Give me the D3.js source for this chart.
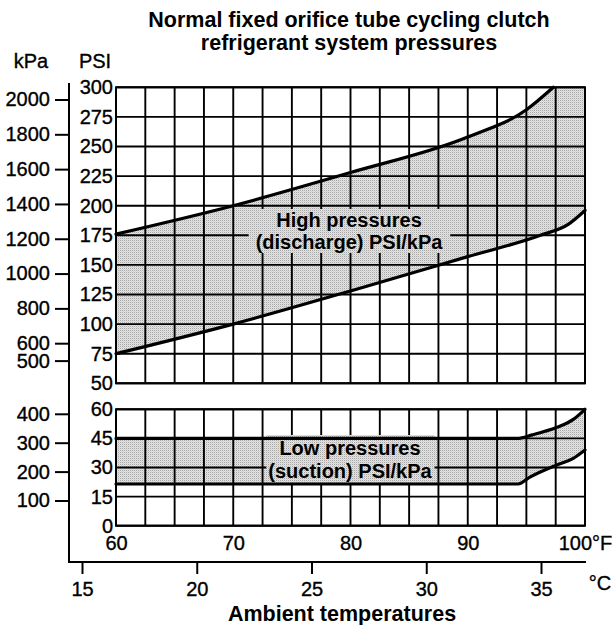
<!DOCTYPE html>
<html>
<head>
<meta charset="utf-8">
<script src="https://cdn.jsdelivr.net/npm/d3@7"></script>
<style>
  html, body { margin: 0; padding: 0; background: #fff; }
  svg { display: block; }
  text { font-family: "Liberation Sans", Arial, Helvetica, sans-serif; fill: #000; }
</style>
</head>
<body>
<svg id="chart" width="616" height="625"></svg>
<script>
// ---- data ----
const titleLines = ["Normal fixed orifice tube cycling clutch", "refrigerant system pressures"];
const fahrenheitTicks = [60, 70, 80, 90, 100];
const celsiusTicks = [15, 20, 25, 30, 35];
const psiHighTicks = [50, 75, 100, 125, 150, 175, 200, 225, 250, 275, 300];
const psiLowTicks = [0, 15, 30, 45, 60];
const kpaHighTicks = [500, 600, 800, 1000, 1200, 1400, 1600, 1800, 2000];
const kpaLowTicks = [100, 200, 300, 400];

// high side (discharge) band, PSI vs ambient °F
const highMaxTemp = [60, 70, 80, 90, 95, 97.3];
const highMaxPsi  = [176, 200, 228, 258, 281, 300];
const highMinTemp = [60, 70, 80, 90, 96.2, 98.6, 100];
const highMinPsi  = [75, 100, 128, 157, 175, 184.5, 196];

// low side (suction) band, PSI vs ambient °F
const lowMaxTemp = [60, 94.2, 95.5, 97.6, 99, 100];
const lowMaxPsi  = [45, 45, 46.8, 50.7, 54.8, 60];
const lowMinTemp = [60, 94.3, 95.3, 97.6, 99, 100];
const lowMinPsi  = [21.5, 21.5, 25, 31.3, 34.7, 39];

// ---- layout ----
const svg = d3.select("#chart");
const FONT = 20;
const INK = 0.35;   // slight stroke to give the regular labels a printed weight

const x = d3.scaleLinear().domain([60, 100]).range([116, 585]);
const yHi = d3.scaleLinear().domain([50, 300]).range([383.3, 87.3]);
const yLo = d3.scaleLinear().domain([0, 60]).range([525.7, 409.3]);
const xC = d3.scaleLinear().domain([15, 35]).range([82, 541]);
const kpaHi = d3.scaleLinear().domain([500, 2000]).range([360.6, 99.5]);
const kpaLo = d3.scaleLinear().domain([100, 400]).range([500.5, 413.8]);

const zip = (a, b) => a.map((v, i) => [v, b[i]]);

// stipple fill for pressure bands
const defs = svg.append("defs");
const pat = defs.append("pattern").attr("id", "stipple")
  .attr("width", 2).attr("height", 2).attr("patternUnits", "userSpaceOnUse");
pat.append("rect").attr("width", 2).attr("height", 2).attr("fill", "#e4e4e4");
pat.append("rect").attr("width", 1).attr("height", 1).attr("fill", "#a6a6a6");
pat.append("rect").attr("x", 1).attr("y", 1).attr("width", 1).attr("height", 1).attr("fill", "#d2d2d2");

// ---- title ----
svg.append("g").selectAll("text").data(titleLines).join("text")
  .attr("x", 349).attr("y", (d, i) => 27 + i * 23)
  .attr("text-anchor", "middle")
  .attr("font-size", 21.5).attr("font-weight", "bold")
  .text(d => d);

// ---- band paths ----
const curveLine = ys => d3.line().x(d => x(d[0])).y(d => ys(d[1])).curve(d3.curveMonotoneX);

function bandPath(topPts, botPts, ys, topCapPsi) {
  const line = curveLine(ys);
  let p = line(topPts);
  const lastTop = topPts[topPts.length - 1];
  if (lastTop[0] < 100) p += `L${x(100)},${ys(topCapPsi)}`;
  const rev = line(botPts.slice().reverse());
  return p + "L" + rev.slice(1) + "Z";
}

function panel(ys, hLines, topPts, botPts, topCap) {
  const g = svg.append("g");
  const [x0, x1] = x.range();
  const [y0, y1] = [ys.range()[1], ys.range()[0]];
  g.append("path").attr("d", bandPath(topPts, botPts, ys, topCap)).attr("fill", "url(#stipple)");
  g.append("g").selectAll("line").data(d3.range(60, 100.01, 2.5)).join("line")
    .attr("x1", d => x(d)).attr("x2", d => x(d)).attr("y1", y0).attr("y2", y1)
    .attr("stroke", "#000").attr("stroke-width", 1.9);
  g.append("g").selectAll("line").data(hLines).join("line")
    .attr("x1", x0).attr("x2", x1).attr("y1", d => ys(d)).attr("y2", d => ys(d))
    .attr("stroke", "#000").attr("stroke-width", 1.9);
  g.append("rect").attr("x", x0).attr("y", y0).attr("width", x1 - x0).attr("height", y1 - y0)
    .attr("fill", "none").attr("stroke", "#000").attr("stroke-width", 2);
  return g;
}

const hiG = panel(yHi, psiHighTicks, zip(highMaxTemp, highMaxPsi), zip(highMinTemp, highMinPsi), 300);
const loG = panel(yLo, psiLowTicks, zip(lowMaxTemp, lowMaxPsi), zip(lowMinTemp, lowMinPsi), 60);

// in-band labels with stipple backing
function bandLabel(g, lines, cx, baselines, padX, padTop, padBot) {
  const lg = g.append("g");
  const box = lg.append("rect").attr("fill", "url(#stipple)");
  lg.selectAll("text").data(lines).join("text")
    .attr("x", cx).attr("y", (d, i) => baselines[i])
    .attr("text-anchor", "middle").attr("font-size", 20).attr("font-weight", "bold")
    .text(d => d);
  const bb = lg.node().getBBox();
  box.attr("x", bb.x - padX).attr("y", bb.y - padTop)
     .attr("width", bb.width + 2 * padX).attr("height", bb.height + padTop + padBot);
}
bandLabel(hiG, ["High pressures", "(discharge) PSI/kPa"], 349, [227, 249], 7, 0, 0);
bandLabel(loG, ["Low pressures", "(suction) PSI/kPa"], 350, [455, 478], 2, 2, 2);

// curve strokes
[[hiG, yHi, highMaxTemp, highMaxPsi], [hiG, yHi, highMinTemp, highMinPsi],
 [loG, yLo, lowMaxTemp, lowMaxPsi], [loG, yLo, lowMinTemp, lowMinPsi]].forEach(([g, ys, t, p]) => {
  g.append("path").attr("d", curveLine(ys)(zip(t, p)))
    .attr("fill", "none").attr("stroke", "#000").attr("stroke-width", 3.2)
    .attr("stroke-linecap", "round");
});

// ---- axes ----
function styleAxis(g) {
  g.select(".domain").remove();
  g.selectAll("text").attr("font-size", FONT).attr("fill", "#000")
    .attr("stroke", "#000").attr("stroke-width", INK)
    .attr("font-family", "\"Liberation Sans\", Arial, Helvetica, sans-serif");
  g.selectAll(".tick line").attr("stroke", "#000").attr("stroke-width", 2);
}
svg.append("g").attr("transform", `translate(${x(60)},0)`)
  .call(d3.axisLeft(yHi).tickValues(psiHighTicks).tickSize(0).tickPadding(3)).call(styleAxis);
svg.append("g").attr("transform", `translate(${x(60)},0)`)
  .call(d3.axisLeft(yLo).tickValues(psiLowTicks).tickSize(0).tickPadding(3)).call(styleAxis);

const kpaX = 69;
const kpaFmt = d3.format("d");
svg.append("g").attr("transform", `translate(${kpaX},0)`)
  .call(d3.axisLeft(kpaHi).tickValues(kpaHighTicks).tickSize(14).tickPadding(5).tickFormat(kpaFmt))
  .call(styleAxis);
svg.append("g").attr("transform", `translate(${kpaX},0)`)
  .call(d3.axisLeft(kpaLo).tickValues(kpaLowTicks).tickSize(14).tickPadding(5).tickFormat(kpaFmt))
  .call(styleAxis);

const baseY = 562;
svg.append("path")
  .attr("d", `M${kpaX},83V${baseY}H${x(100) + 1}`)
  .attr("fill", "none").attr("stroke", "#000").attr("stroke-width", 2);

svg.append("g").selectAll("text")
  .data([["kPa", 31], ["PSI", 95]]).join("text")
  .attr("x", d => d[1]).attr("y", 68).attr("text-anchor", "middle")
  .attr("font-size", FONT).attr("stroke", "#000").attr("stroke-width", INK)
  .text(d => d[0]);

svg.append("g").attr("transform", `translate(0,${yLo(0)})`)
  .call(d3.axisBottom(x).tickValues(fahrenheitTicks).tickSize(0).tickPadding(10)
    .tickFormat(d => d === 100 ? "100°F" : String(d)))
  .call(styleAxis);

svg.append("g").attr("transform", `translate(0,${baseY})`)
  .call(d3.axisBottom(xC).tickValues(celsiusTicks).tickSize(12).tickPadding(8))
  .call(styleAxis);
svg.append("text").attr("x", 600).attr("y", 590).attr("text-anchor", "middle")
  .attr("font-size", FONT).attr("stroke", "#000").attr("stroke-width", INK).text("°C");

svg.append("text").attr("x", 342).attr("y", 621).attr("text-anchor", "middle")
  .attr("font-size", 21.5).attr("font-weight", "bold").text("Ambient temperatures");
</script>
</body>
</html>
